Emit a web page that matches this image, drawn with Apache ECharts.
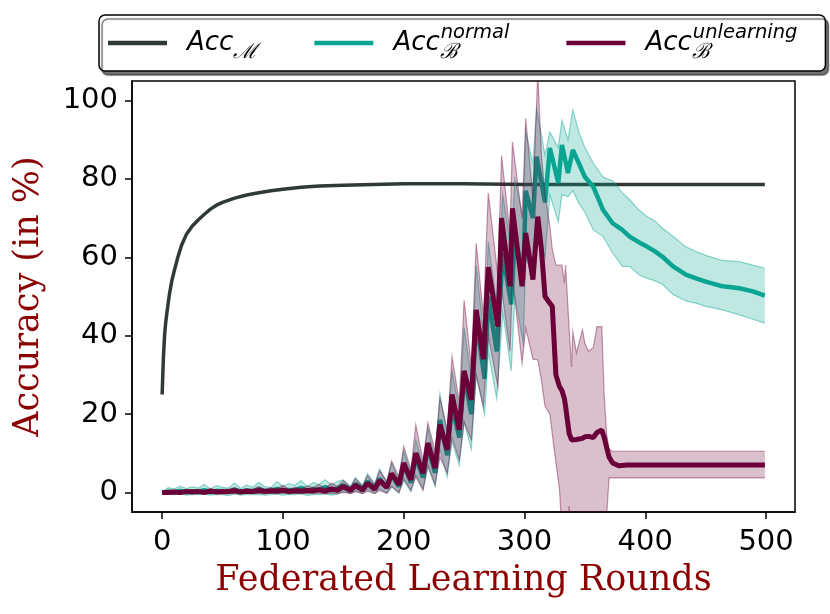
<!DOCTYPE html>
<html>
<head>
<meta charset="utf-8">
<script src="https://cdn.jsdelivr.net/npm/echarts@6/dist/echarts.min.js"></script>
<style>
  html, body { margin: 0; padding: 0; background: #fff; }
  #main { width: 830px; height: 614px; }
</style>
</head>
<body>
<div id="main"></div>
<script>
// tick labels
const xTicks = [0, 100, 200, 300, 400, 500];
const yTicks = [0, 20, 40, 60, 80, 100];

// Acc_M (main task accuracy)
const mRounds = [0, 1, 2, 3, 4, 6, 8, 10, 13, 16, 20, 25, 30, 35, 40, 45, 50, 60, 70, 80, 90, 100, 115, 130, 150, 175, 200, 250, 300, 400, 499];
const accM = [25, 34, 40, 43.5, 46, 50.5, 54, 56.5, 60, 63, 65.8, 68, 69.6, 71, 72.3, 73.3, 74, 75.1, 75.9, 76.5, 77, 77.4, 77.9, 78.2, 78.4, 78.6, 78.8, 78.8, 78.6, 78.6, 78.6];

// Acc_B normal (mean, lower, upper)
const nRounds = [0, 5, 10, 15, 20, 25, 30, 35, 40, 45, 50, 55, 60, 65, 70, 75, 80, 85, 90, 95, 100, 105, 110, 115, 120, 125, 130, 135, 140, 145,
  150, 156, 160, 166, 170, 176, 180, 186, 190, 196, 200, 206, 210, 216, 220, 226, 230, 236, 240, 246, 250, 256, 260, 267, 270, 277,
  282, 289, 292, 299, 301, 307, 310, 317, 321, 328, 331, 336, 340, 345, 350, 357, 365, 373, 381, 387, 395, 401, 408, 414, 423, 434,
  442, 450, 464, 478, 489, 499];
const nMean = [0, 0.2, 0, 0.4, 0.1, 0.3, 0.2, 0.6, 0.1, 0.4, 0.3, 0.2, 0.7, 0.2, 0.5, 0.3, 0.8, 0.4, 0.3, 0.9, 0.4, 0.6, 0.5, 1.2, 0.4, 0.8, 0.6, 1.4, 0.5, 1.0,
  1.8, 0.6, 2.2, 0.8, 2.8, 1.0, 3.5, 1.2, 4.5, 1.5, 7.0, 2.5, 9.0, 3.8, 11.5, 5.0, 18.5, 9.5, 22.0, 14.0, 30.0, 20.0, 44.0, 29.0, 50.0, 36.0,
  61.0, 48.0, 65.3, 54.3, 77.0, 70.0, 85.7, 74.0, 87.9, 79.0, 88.7, 81.5, 87.4, 84.0, 80.5, 78.0, 72.1, 68.7, 67.0, 65.3, 63.8, 62.8, 61.5, 60.2, 57.7, 55.5,
  54.6, 53.8, 52.6, 52.1, 51.3, 50.2];
const nLow = [0, -0.5, -0.6, -0.4, -0.7, -0.5, -0.6, -0.4, -0.7, -0.5, -0.6, -0.8, -0.4, -0.7, -0.5, -0.6, -0.5, -0.7, -0.6, -0.4, -0.7, -0.5, -0.6, -0.3, -0.8, -0.5, -0.6, -0.4, -0.7, -0.5,
  0.3, -0.3, 0.5, -0.3, 0.8, -0.3, 1.0, -0.2, 1.5, -0.2, 3.0, 0.2, 4.5, 1.0, 6.5, 1.5, 11.0, 4.0, 13.0, 7.0, 18.0, 11.0, 30.0, 20.0, 36.0, 24.0,
  46.0, 31.0, 50.0, 38.0, 60.0, 55.0, 68.0, 60.0, 76.0, 69.0, 76.0, 75.5, 77.0, 73.8, 71.5, 67.0, 65.3, 61.1, 57.7, 57.7, 55.5, 54.7, 54.0, 53.2, 50.5, 48.8,
  48.3, 47.5, 46.6, 45.3, 44.2, 43.2];
const nHigh = [0, 1.2, 0.9, 1.6, 1.0, 1.4, 1.1, 2.0, 0.9, 1.7, 1.3, 1.1, 2.4, 1.0, 1.9, 1.3, 2.6, 1.5, 1.2, 2.8, 1.6, 2.2, 1.8, 3.0, 1.5, 2.5, 2.0, 3.2, 1.8, 2.8,
  3.2, 1.5, 3.8, 1.8, 4.8, 2.2, 6.0, 2.6, 7.5, 3.2, 10.5, 5.0, 13.5, 6.8, 16.5, 8.5, 25.0, 15.0, 31.0, 21.0, 42.0, 29.0, 58.0, 38.0, 64.0, 48.0,
  76.0, 62.0, 80.0, 70.0, 92.0, 84.0, 98.0, 86.0, 92.0, 88.0, 95.0, 90.0, 97.6, 92.0, 88.0, 84.0, 80.5, 79.5, 76.5, 74.7, 72.0, 70.5, 69.3, 67.5, 65.3, 62.6,
  61.5, 60.5, 59.2, 58.9, 58.0, 57.2];

// Acc_B unlearning (mean, lower, upper)
const uRounds = [0, 5, 10, 15, 20, 25, 30, 35, 40, 45, 50, 55, 60, 65, 70, 75, 80, 85, 90, 95, 100, 105, 110, 115, 120, 125, 130, 135, 140, 145,
  150, 156, 160, 166, 170, 176, 180, 186, 190, 196, 200, 206, 210, 216, 220, 226, 230, 236, 240, 246, 250, 256, 260, 266, 270, 278,
  281, 288, 290, 298, 301, 307, 311, 314, 317, 321, 323, 326, 329, 331, 333, 334, 337, 339, 340, 343, 348, 350, 353, 357, 360, 364,
  366, 368, 370, 373, 378, 385, 420, 460, 499];
const uMean = [0, 0, 0.1, 0, 0.2, 0.1, 0.2, 0, 0.3, 0.1, 0.2, 0.2, 0.4, 0.1, 0.3, 0.2, 0.5, 0.2, 0.4, 0.3, 0.6, 0.2, 0.4, 0.3, 0.5, 0.4, 0.7, 0.3, 0.9, 0.5,
  1.5, 0.5, 1.8, 0.6, 2.3, 0.8, 3.0, 1.3, 4.8, 2.0, 7.5, 3.2, 10.0, 4.9, 12.6, 6.2, 17.3, 10.9, 25.0, 16.0, 31.0, 23.6, 46.6, 34.0, 57.5, 42.3,
  70.0, 52.6, 72.5, 52.6, 66.2, 54.3, 70.4, 62.0, 50.0, 48.3, 47.5, 30.0, 27.0, 26.0, 24.0, 22.0, 15.0, 13.4, 13.4, 13.5, 13.8, 14.2, 14.3, 14.0, 15.3, 15.9,
  14.0, 11.5, 9.0, 7.5, 6.8, 7.0, 7.0, 7.0, 7.0];
const uLow = [0, -0.3, -0.2, -0.4, -0.2, -0.3, -0.2, -0.4, -0.2, -0.3, -0.3, -0.2, -0.3, -0.3, -0.2, -0.3, -0.2, -0.3, -0.2, -0.3, -0.2, -0.3, -0.2, -0.3, -0.2, -0.3, -0.2, -0.3, -0.2, -0.3,
  0.0, -0.3, 0.2, -0.3, 0.3, -0.3, 0.5, -0.2, 1.5, 0.0, 3.5, 0.5, 4.0, 0.5, 7.0, 2.0, 9.0, 5.0, 14.0, 8.3, 18.0, 13.4, 30.0, 22.0, 40.0, 27.0,
  52.0, 36.0, 55.0, 33.0, 42.0, 34.0, 33.8, 28.7, 22.0, 20.0, 15.0, 7.6, 0.7, -10, -12, -12, -3.5, -12, -14, -14, -14, -14, -14, -14, -14, -14,
  -10, -6, 3.7, 3.7, 3.7, 3.7, 3.7, 3.7, 3.7];
const uHigh = [0, 0.5, 0.6, 0.4, 0.8, 0.6, 0.8, 0.5, 1.0, 0.6, 0.8, 0.8, 1.2, 0.6, 1.0, 0.8, 1.5, 0.8, 1.2, 1.0, 1.8, 0.8, 1.3, 1.0, 1.6, 1.3, 2.0, 1.0, 2.4, 1.5,
  3.0, 1.3, 3.5, 1.5, 4.3, 2.0, 5.5, 2.8, 8.0, 4.0, 11.7, 5.8, 17.3, 8.0, 17.7, 10.5, 24.0, 16.0, 34.7, 23.0, 49.0, 32.0, 63.6, 45.0, 76.4, 55.0,
  86.0, 66.0, 89.5, 70.0, 95.5, 75.0, 107.0, 86.0, 76.0, 68.0, 62.0, 58.0, 58.0, 58.0, 53.4, 58.0, 41.5, 32.0, 41.0, 35.6, 41.5, 38.0, 36.0, 37.0, 42.3, 42.3,
  24.5, 15.0, 11.0, 10.5, 10.5, 10.5, 10.5, 10.5, 10.5];

const cM = '#2f3a37';
const cN = '#0aa592';
const cU = '#6b0038';

const pairs = (xs, ys) => xs.map((x, i) => [x, ys[i]]);

// shaded band between lo and hi, drawn as one polygon through the axis scales
function band(xs, lo, hi, edge, fill, z) {
  return {
    type: 'custom', z: z, clip: true, silent: true,
    data: xs.map((x, i) => [x, lo[i], hi[i]]),
    encode: { x: 0, y: [1, 2] },
    renderItem: function (params, api) {
      if (params.dataIndex !== 0) return null;
      const top = xs.map((x, i) => api.coord([x, hi[i]]));
      const bot = xs.map((x, i) => api.coord([x, lo[i]]));
      return {
        type: 'group',
        children: [
          { type: 'polygon', shape: { points: top.concat(bot.slice().reverse()) }, style: { fill: fill, stroke: null } },
          { type: 'polyline', shape: { points: top }, style: { fill: null, stroke: edge, lineWidth: 1.2 } },
          { type: 'polyline', shape: { points: bot }, style: { fill: null, stroke: edge, lineWidth: 1.2 } }
        ]
      };
    }
  };
}

const chart = echarts.init(document.getElementById('main'));
chart.setOption({
  animation: false,
  grid: { left: 132, right: 35, top: 81, bottom: 102, show: true, borderColor: '#000', borderWidth: 1.5 },
  legend: {
    data: ['accM', 'normal', 'unlearning'],
    left: 99, top: 15,
    padding: [8, 28, 8, 9],
    itemGap: 57, itemWidth: 59, itemHeight: 4.5, icon: 'rect',
    backgroundColor: '#fff', borderColor: '#000', borderWidth: 1.5, borderRadius: 6,
    shadowColor: 'rgba(0,0,0,0.55)', shadowBlur: 1, shadowOffsetX: 3, shadowOffsetY: 4,
    formatter: function (name) {
      if (name === 'accM') return '{a|Acc}{sub|ℳ}';
      if (name === 'normal') return '{a|Acc}{sub|ℬ}{sup|normal}';
      return '{a|Acc}{sub|ℬ}{sup|unlearning}';
    },
    textStyle: {
      padding: [0, 0, 0, 15],
      rich: {
        a: { fontFamily: 'DejaVu Sans', fontStyle: 'italic', fontSize: 26, lineHeight: 40, verticalAlign: 'middle', color: '#000' },
        sub: { fontFamily: 'DejaVu Serif', fontStyle: 'italic', fontSize: 21, lineHeight: 25, verticalAlign: 'bottom', color: '#000' },
        sup: { fontFamily: 'DejaVu Sans', fontStyle: 'italic', fontSize: 19.5, lineHeight: 34, verticalAlign: 'top', color: '#000', padding: [0, 0, 0, -17] }
      }
    }
  },
  xAxis: {
    type: 'value', min: -24.95, max: 523.95,
    splitLine: { show: false },
    axisLine: { onZero: false, lineStyle: { color: '#000', width: 1.5 } },
    axisTick: { length: 7, lineStyle: { color: '#000', width: 1.5 }, customValues: xTicks },
    axisLabel: { customValues: xTicks, fontFamily: 'DejaVu Sans', fontSize: 29, color: '#000', margin: 16 },
    name: 'Federated Learning Rounds', nameLocation: 'middle', nameGap: 51,
    nameTextStyle: { fontFamily: 'DejaVu Serif', fontSize: 35, color: '#8b0000' }
  },
  yAxis: {
    type: 'value', min: -5, max: 105,
    splitLine: { show: false },
    axisLine: { show: true, onZero: false, lineStyle: { color: '#000', width: 1.5 } },
    axisTick: { show: true, length: 7, lineStyle: { color: '#000', width: 1.5 }, customValues: yTicks },
    axisLabel: { customValues: yTicks, fontFamily: 'DejaVu Sans', fontSize: 29, color: '#000', margin: 14 },
    name: 'Accuracy (in %)', nameLocation: 'middle', nameGap: 86,
    nameTextStyle: { fontFamily: 'DejaVu Serif', fontSize: 35, color: '#8b0000' }
  },
  series: [
    { name: 'accM', type: 'line', data: pairs(mRounds, accM), symbol: 'none', z: 2, color: cM, lineStyle: { color: cM, width: 3.5 } },
    band(nRounds, nLow, nHigh, 'rgba(10,165,146,0.45)', 'rgba(10,165,146,0.26)', 3),
    { name: 'normal', type: 'line', data: pairs(nRounds, nMean), symbol: 'none', z: 4, color: cN, lineStyle: { color: cN, width: 4.5 } },
    band(uRounds, uLow, uHigh, 'rgba(107,0,56,0.4)', 'rgba(107,0,56,0.25)', 5),
    { name: 'unlearning', type: 'line', data: pairs(uRounds, uMean), symbol: 'none', z: 6, color: cU, lineStyle: { color: cU, width: 5 } }
  ]
});
</script>
</body>
</html>
